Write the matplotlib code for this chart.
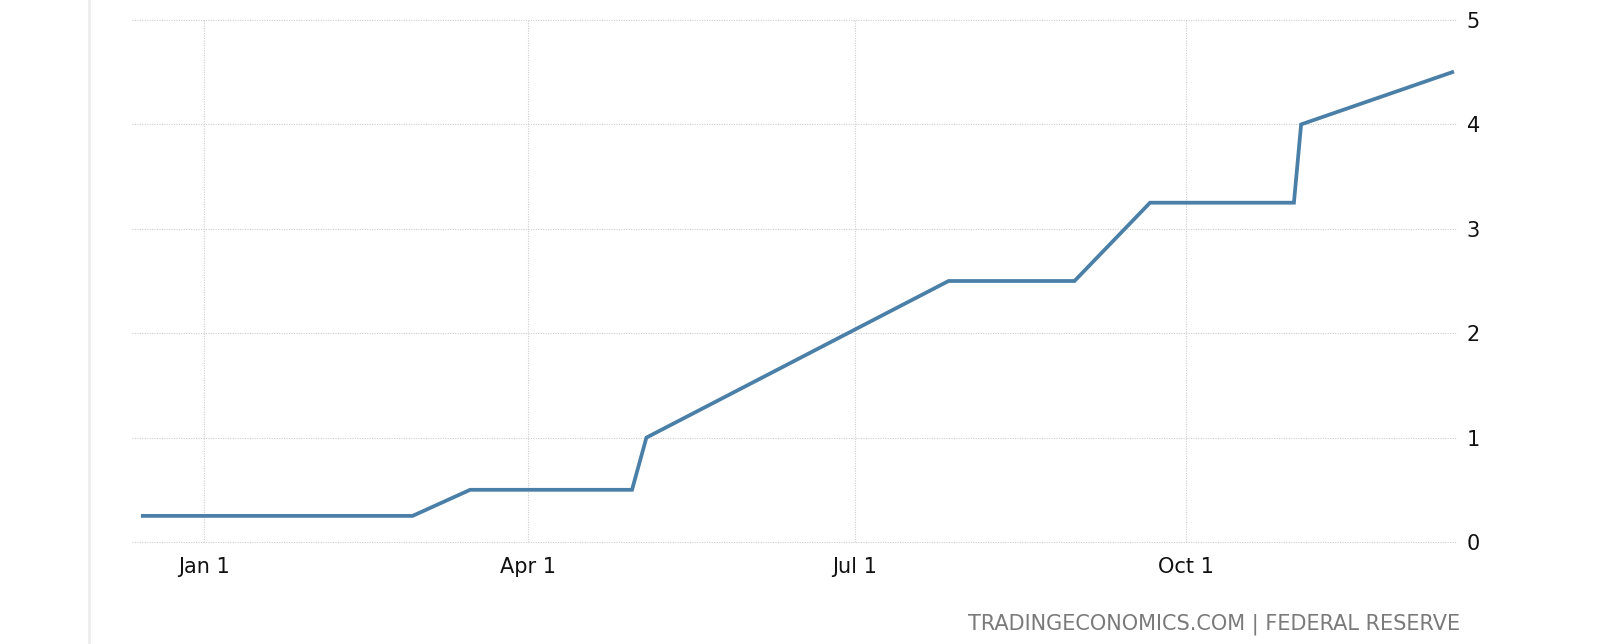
import matplotlib
matplotlib.use('Agg')
import matplotlib.pyplot as plt
from matplotlib.lines import Line2D
import pandas as pd

dates = ['2021-12-15', '2022-02-28', '2022-03-16', '2022-04-30', '2022-05-04',
         '2022-07-27', '2022-08-31', '2022-09-21', '2022-10-31', '2022-11-02',
         '2022-12-14']
rate = [0.25, 0.25, 0.5, 0.5, 1.0, 2.5, 2.5, 3.25, 3.25, 4.0, 4.5]

tick_dates = ['2022-01-01', '2022-04-01', '2022-07-01', '2022-10-01']
tick_labels = ['Jan 1', 'Apr 1', 'Jul 1', 'Oct 1']

x = pd.to_datetime(dates)

fig = plt.figure(figsize=(16.1, 6.44), dpi=100)
ax = fig.add_axes([132 / 1610, 102 / 644, (1457 - 132) / 1610, (542 - 20) / 644])

ax.plot(x, rate, color='#4a7fa8', linewidth=2.7, solid_joinstyle='miter')

ax.set_xlim(pd.Timestamp('2021-12-12'), pd.Timestamp('2022-12-15 08:00'))
ax.set_ylim(0, 5)
ax.set_xticks(pd.to_datetime(tick_dates))
ax.set_xticklabels(tick_labels)
ax.set_yticks(range(0, 6))

ax.yaxis.tick_right()
ax.tick_params(axis='both', length=0, labelsize=15, labelcolor='#111111')
ax.tick_params(axis='y', pad=7)
ax.tick_params(axis='x', pad=11)

for s in ax.spines.values():
    s.set_visible(False)
ax.grid(True, color='#cfcfcf', linestyle=(0, (1, 1.2)), linewidth=0.8)
ax.set_axisbelow(True)
for gl in ax.get_ygridlines() + ax.get_xgridlines():
    gl.set_clip_on(False)

# faint left border
fig.add_artist(Line2D([89 / 1610, 89 / 1610], [0, 1], color='#ececec', linewidth=2,
                      transform=fig.transFigure))

fig.text(1460 / 1610, 1 - 624 / 644, 'TRADINGECONOMICS.COM | FEDERAL RESERVE',
         ha='right', va='center', fontsize=15, color='#7a7a7a')

fig.savefig('out.png', dpi=100)
